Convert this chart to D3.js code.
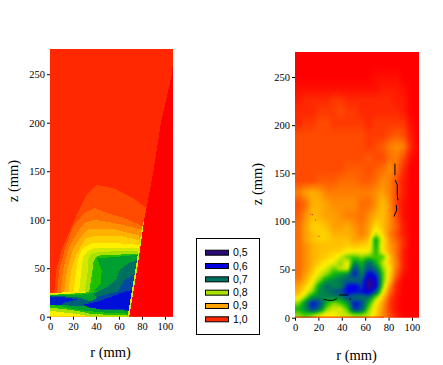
<!DOCTYPE html>
<html><head><meta charset="utf-8">
<script src="https://cdn.jsdelivr.net/npm/d3@7"></script>
<style>html,body{margin:0;padding:0;background:#fff}svg{display:block}</style></head>
<body><svg id="c" width="443" height="365"></svg>
<script>
const rTicks=[0,20,40,60,80,100];
const zTicks=[0,50,100,150,200,250];
const legendLabels=["0,5","0,6","0,7","0,8","0,9","1,0"];
const legendColors=["#2a0a78","#0000e0","#007060","#a8e000","#ffa500","#ff2800"];
const stopValues=[0.5,0.6,0.65,0.7,0.74,0.77,0.81,0.85,0.9,0.97,1];
const stopColors=["#3a0a70","#0000e8","#0048a0","#007060","#00a030","#20c000","#a8e000","#fff000","#ffa000","#ff2800","#ff0000"];
// left panel: iso-bands, as [value, [[r,z],...]]
const wedgeLine=[[69,0],[76,50],[82,100],[90,150],[96.5,200],[106,250],[108,276],[108,0]];
const stripeLine=[[67.5,0],[74.5,50],[80,92],[82,100],[76,50],[69,0]];
const bandValues=[0.95,0.93,0.91,0.89,0.87,0.85,0.83,0.81,0.77,
 0.85,0.81,0.77,0.74,0.68,0.62,
 0.74,0.7,0.65,0.61];
const bandLines=[
 [[3.5,22],[5.5,48],[10,69],[16,85],[25,110],[32,126],[40.5,136],[56.5,132],[72.5,122],[86,110],[90,22]],
 [[6,22],[8,48],[13,70],[20,93],[30,107],[38.8,112],[50.4,106.7],[64.8,101.7],[81,93],[90,22]],
 [[9,22],[11.3,48],[16,70],[24.3,88],[30,96.6],[38.8,100],[56,96.6],[79,90],[90,22]],
 [[12,22],[14.8,48],[20,70],[27,82],[33,90],[38.8,90.7],[56,90],[77,84],[90,22]],
 [[15.5,22],[18.5,48],[23,64],[27,73],[31.6,81],[38.8,83],[62,83],[77,79],[90,22]],
 [[20,22],[22.9,48],[25,62],[28,70],[32,73],[37.4,76],[56,76],[78,74],[90,22]],
 [[25,22],[27.2,48],[29,62],[33,68],[40,71],[60,71],[78,71],[90,22]],
 [[30,24],[33,48],[33.5,60],[36,65],[45,67],[78,68],[90,22]],
 [[34,25],[37,48],[38,58],[42,63],[78,65],[90,22]],
 [[0,24.5],[12,25],[30,26],[37,24],[37,8],[72,0],[0,0]],
 [[0,23],[20,24],[34,25],[38,25],[72,3],[72,0],[35,0],[28,2],[15,4],[0,6]],
 [[0,22.5],[18,23.5],[32,25],[45,26],[72,12],[72,1],[50,2],[35,3],[28,5],[12,8],[0,9]],
 [[0,22],[15,22],[30,23],[38,25],[45,25],[72,20],[72,3],[50,4],[32,6],[20,8],[10,11],[0,12]],
 [[0,21.5],[12,21],[24,20],[30,18],[40,14],[30,11],[20,11],[10,12.5],[0,13]],
 [[0,20.5],[12,20],[24,18],[14,15],[10,12.5],[0,12]],
 [[41,60],[45,48],[44,34],[38,27],[45,25],[60,20],[78,30],[78,64],[60,62]],
 [[76,58.6],[68,55],[60.6,48],[57.7,38],[50,31],[41.7,26],[38,23],[42,18],[78,20]],
 [[78,45],[75,45],[65,38],[59,26],[42,21],[38,17],[32,14],[44,7],[78,6]],
 [[78,28],[71,27.6],[60.6,24],[41.7,15.5],[29,12.5],[35,9],[44.6,8],[78,7]]
];
// right panel: measured field, percent, rows by z and columns by r
const gridR=[3,9,15,21,27,33,39,45,51,57,63,69,75,81,87,93,99,105];
const gridZ=[3,9,15,21,27,33,39,45,51,57,63,69,75,81,87,94,106,118,130,142,154,166,178,190,202,214,226,238,250,262,274];
const gridV=[
[80,78,80,83,85,85,83,82,80,80,82,87,91,95,98,100,100,100],
[76,72,64,70,80,83,83,78,63,67,80,86,91,96,99,100,100,100],
[80,72,61,65,76,80,78,74,60,65,76,85,90,96,99,100,100,100],
[86,80,72,72,72,72,72,66,70,70,70,80,88,95,99,100,100,100],
[89,85,80,72,71,68,65,59,61,61,57,67,84,93,98,100,100,100],
[90,87,83,74,69,72,72,61,59,65,50,58,80,91,98,100,100,100],
[92,89,85,80,74,72,70,68,70,67,53,59,78,88,96,100,100,100],
[93,90,87,83,80,76,74,72,61,72,58,63,78,87,94,99,100,100],
[93,91,88,85,83,79,82,84,64,74,65,70,80,86,93,98,100,100],
[93,91,89,87,85,84,80,85,72,76,68,75,82,88,92,98,100,100],
[93,91,89,88,87,86,83,79,78,80,78,78,78,88,93,98,100,100],
[93,91,89,88,88,87,87,85,85,85,85,76,85,90,93,98,100,100],
[93,91,89,88,88,88,88,87,88,87,87,75,86,90,93,97,100,100],
[93,90,88,87,87,88,88,88,90,90,88,74,85,91,94,97,100,100],
[93,90,88,87,87,89,89,89,90,92,90,82,87,92,95,98,100,100],
[93,90,87,87,88,90,90,89,91,92,90,86,88,91,94,98,100,100],
[94,91,88,89,90,90,91,92,92,93,91,89,88,91,95,99,100,100],
[95,93,89,89,90,91,91,91,91,93,93,91,88,91,96,99,100,100],
[92,90,89,90,92,92,92,92,92,92,92,91,90,92,95,98,100,100],
[95,95,95,94,94,94,93,93,93,94,94,93,91,92,95,98,100,100],
[95,95,95,95,95,95,95,94,94,94,95,94,93,91,93,97,100,100],
[95,95,95,95,95,95,95,95,95,95,94,95,95,93,92,95,99,100],
[95,95,95,95,95,95,95,95,95,95,96,95,94,92,91,92,97,100],
[95,95,95,95,95,95,95,95,95,95,96,96,96,95,94,95,98,100],
[97,96,96,95,95,96,96,96,96,96,97,96,96,96,96,96,99,100],
[97,97,97,96,96,96,95,96,96,97,97,97,97,97,97,98,100,100],
[98,97,97,97,97,96,96,97,97,97,97,97,97,97,98,98,100,100],
[99,99,99,99,99,99,99,99,99,99,99,99,98,98,98,99,100,100],
[100,100,100,100,100,100,100,100,100,100,100,99,99,99,99,100,100,100],
[100,100,100,100,100,100,100,100,100,100,100,100,100,100,100,100,100,100],
[100,100,100,100,100,100,100,100,100,100,100,100,100,100,100,100,100,100]
];
const darkLines=[
 [[85.4,160],[85.4,148]],
 [[85.6,143],[87.4,138],[87.4,128],[88,122]],
 [[86.5,117],[87,112],[84.6,105]],
 [[24.6,19],[28.3,18],[32.6,18],[36,20]],
 [[37.7,23.6],[45.4,23.6]],
 [[47,18.4],[47.4,20]]
];
const specks=[[13,108],[14.5,107.5],[17,102],[20,85]];

const svg=d3.select("#c");
const color=d3.scaleLinear().domain(stopValues).range(stopColors).clamp(true);
const defs=svg.append("defs");
function panel(id,x0,x1,rMax,y0,y1){
  const x=d3.scaleLinear().domain([0,rMax]).range([x0,x1]);
  const y=d3.scaleLinear().domain([0,276]).range([y0,y1]);
  defs.append("clipPath").attr("id",id).append("rect").attr("x",x0).attr("y",y1).attr("width",x1-x0).attr("height",y0-y1);
  const g=svg.append("g").attr("clip-path",`url(#${id})`);
  const ax=svg.append("g").attr("transform",`translate(0,${y0})`).call(d3.axisBottom(x).tickValues(rTicks).tickSize(3).tickPadding(3));
  const ay=svg.append("g").attr("transform",`translate(${x0},0)`).call(d3.axisLeft(y).tickValues(zTicks).tickSize(3).tickPadding(2));
  [ax,ay].forEach(a=>{a.select(".domain").remove();a.selectAll("text").attr("font-family","Liberation Serif").attr("font-size",10.5).attr("fill","#000");a.selectAll("line").attr("stroke","#000")});
  return {x,y,g};
}
// left panel
const L=panel("cl",50,173,107,316.7,49);
const lineL=d3.line().x(d=>L.x(d[0])).y(d=>L.y(d[1]));
L.g.append("rect").attr("x",50).attr("y",49).attr("width",123).attr("height",268).attr("fill",color(0.97));
L.g.selectAll("path.band").data(bandLines).join("path").attr("class","band")
 .attr("d",d=>lineL(d)+"Z").attr("fill",(d,i)=>color(bandValues[i])).attr("shape-rendering","crispEdges");
L.g.append("path").attr("d",lineL(stripeLine)+"Z").attr("fill",color(0.83)).attr("shape-rendering","crispEdges");
L.g.append("path").attr("d",lineL(wedgeLine)+"Z").attr("fill",color(1)).attr("shape-rendering","crispEdges");
// right panel
const R=panel("cr",295,419,106,317.7,52);
defs.append("filter").attr("id","soft").attr("x","-5%").attr("y","-5%").attr("width","110%").attr("height","110%")
 .attr("color-interpolation-filters","sRGB").append("feGaussianBlur").attr("stdDeviation",1.0);
function sample(r,z){
  const seg=(a,v)=>{let i=d3.bisectRight(a,v)-1;i=Math.max(0,Math.min(a.length-2,i));return [i,Math.max(0,Math.min(1,(v-a[i])/(a[i+1]-a[i])))]};
  const [i,t]=seg(gridR,r),[j,u]=seg(gridZ,z);
  return ((1-u)*((1-t)*gridV[j][i]+t*gridV[j][i+1])+u*((1-t)*gridV[j+1][i]+t*gridV[j+1][i+1]))/100;
}
const cells=[];
for(let px=287;px<427;px+=2)for(let py=44;py<326;py+=2)cells.push([px,py]);
const heat=R.g.append("g").attr("filter","url(#soft)");
heat.selectAll("rect").data(cells).join("rect").attr("x",d=>d[0]).attr("y",d=>d[1]).attr("width",2.2).attr("height",2.2)
 .attr("fill",d=>color(sample(R.x.invert(d[0]+1),R.y.invert(d[1]+1))));
R.g.append("rect").attr("x",295).attr("y",R.y(0)-1).attr("width",R.x(76)-295).attr("height",1).attr("fill","#ff0000");
const lineR=d3.line().x(d=>R.x(d[0])).y(d=>R.y(d[1]));
R.g.selectAll("path.dark").data(darkLines).join("path").attr("class","dark").attr("d",lineR).attr("fill","none").attr("stroke","#000").attr("stroke-width",1);
R.g.selectAll("rect.speck").data(specks).join("rect").attr("class","speck").attr("x",d=>R.x(d[0])).attr("y",d=>R.y(d[1])).attr("width",1).attr("height",1).attr("fill","#e01030");
// axis titles
const title=(t,x,y,rot)=>svg.append("text").text(t).attr("text-anchor","middle").attr("font-family","Liberation Serif").attr("font-size",14.5)
 .attr("transform",`translate(${x},${y})`+(rot?" rotate(-90)":""));
title("r (mm)",110.5,357,false);title("r (mm)",356.5,360,false);
title("z (mm)",18,181,true);title("z (mm)",262,184,true);
// legend
svg.append("rect").attr("x",196.5).attr("y",238.5).attr("width",63).attr("height",96).attr("fill","#fff").attr("stroke","#000").attr("stroke-width",1);
const ly=d3.scalePoint().domain(legendLabels).range([252.7,319.3]);
const lg=svg.selectAll("g.lg").data(legendLabels).join("g").attr("class","lg").attr("transform",d=>`translate(0,${ly(d)})`);
lg.append("rect").attr("x",205.5).attr("y",-2.5).attr("width",23).attr("height",5).attr("fill",(d,i)=>legendColors[i]).attr("stroke","#000").attr("stroke-width",1);
lg.append("text").text(d=>d).attr("x",233).attr("y",3.5).attr("font-family","Liberation Sans").attr("font-size",10.5).attr("fill","#000");
</script></body></html>
